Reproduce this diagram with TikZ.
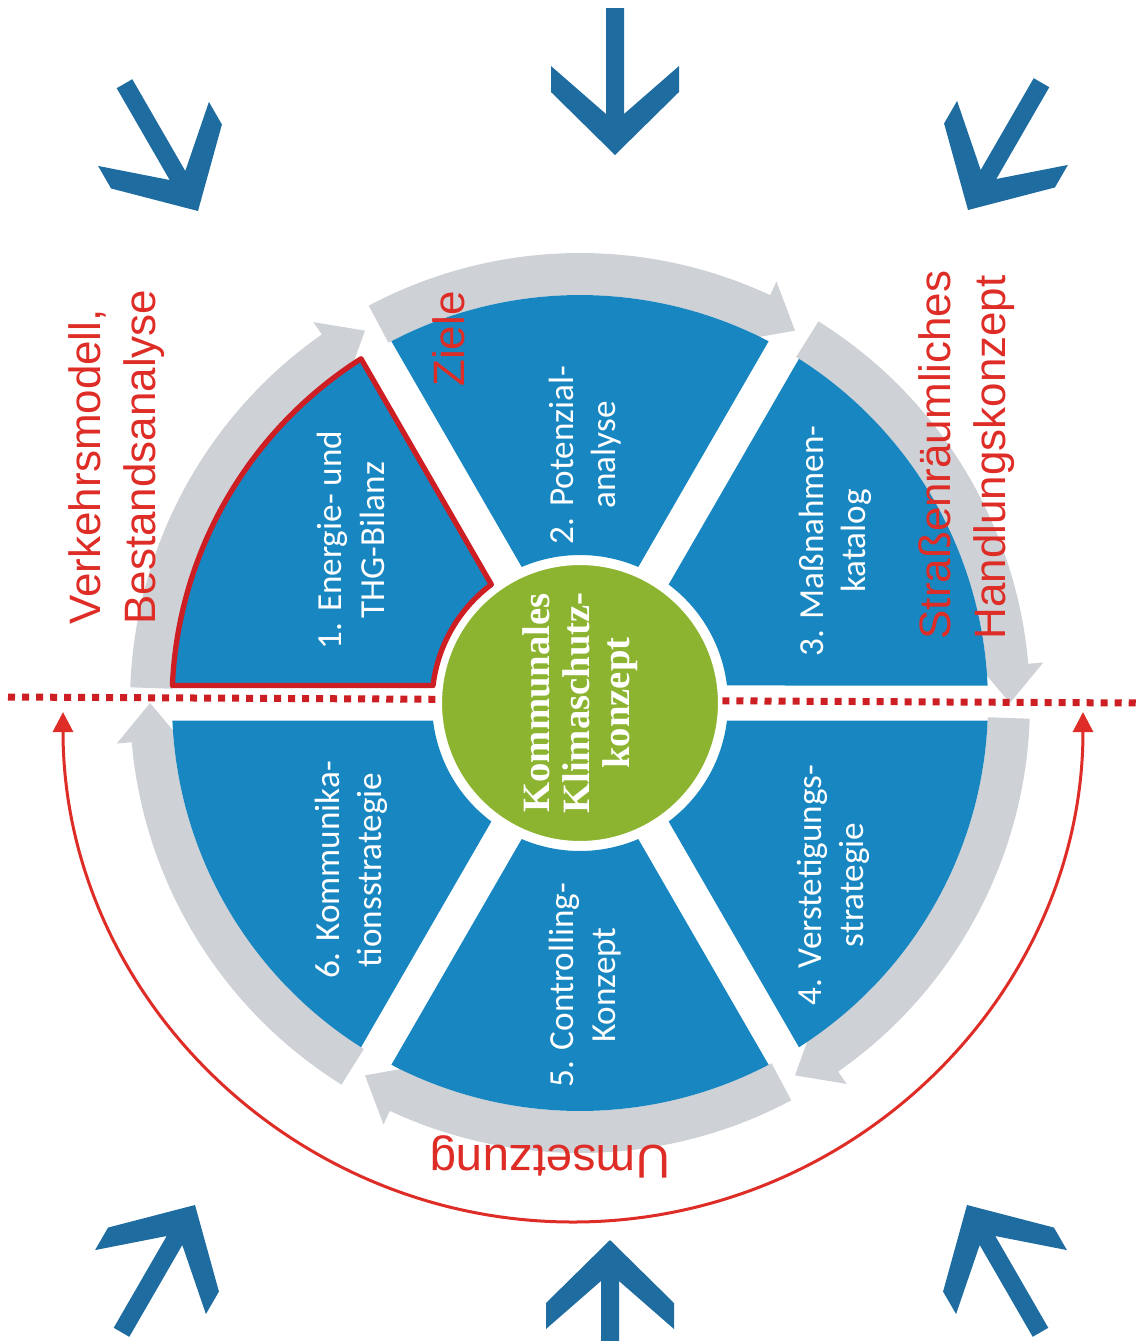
\documentclass[tikz,border=0pt]{standalone}
\usepackage{fontspec, xcolor, tikz}
\setmainfont{Liberation Sans}
\newfontfamily\segfont{Carlito}
\newfontfamily\hubfont{Liberation Serif}
\usetikzlibrary{arrows.meta}

\definecolor{segblue}{RGB}{24,134,192}
\definecolor{arrowblue}{RGB}{30,108,160}
\definecolor{ringgrey}{RGB}{206,209,213}
\definecolor{hubgreen}{RGB}{141,180,48}
\definecolor{labelred}{RGB}{222,45,38}
\definecolor{outlinered}{RGB}{205,30,35}

\tikzset{
  segtext/.style={text=white, align=center, rotate=90, inner sep=0pt, font=\segfont\fontsize{10}{12}\selectfont},
  redtext/.style={text=labelred, align=left, rotate=90, inner sep=0pt, font=\fontsize{12.5}{15.6}\selectfont},
  bigarrow/.pic={
    \fill[arrowblue] (0,0) -- (64,63) -- (64,89) -- (9,41) -- (9,147) -- (-9,147) -- (-9,41) -- (-64,89) -- (-64,63) -- cycle;
  }
}

\begin{document}
\begin{tikzpicture}[x=0.01cm, y=0.01cm]

        \useasboundingbox (0,0) rectangle (1139,-1341);
        \clip (0,0) rectangle (1139,-1341);
        \coordinate (c) at (580,-703);

        \begin{scope}[shift={(c)}]
          \foreach \a in {0,60,...,300}{
            \fill[ringgrey] (\a+58:408) -- (\a+58:450) arc[start angle=\a+58, end angle=\a+5, radius=450]
              -- (\a+5:465) -- (\a:430) -- (\a+5:402) -- (\a+5:408) arc[start angle=\a+5, end angle=\a+58, radius=408] -- cycle;
          }
          \foreach \a in {0,60,...,300}{
            \fill[segblue] (\a+2.46:408) arc[start angle=\a+2.46, end angle=\a+57.54, radius=408]
              -- (\a+53.2:148) arc[start angle=\a+53.2, end angle=\a+6.8, radius=148] -- cycle;
          }
          \draw[outlinered, line width=1.5pt, line join=round] (122.46:408) arc[start angle=122.46, end angle=177.54, radius=408]
            -- (173.2:148) arc[start angle=173.2, end angle=126.8, radius=148] -- cycle;
        \end{scope}

        \coordinate (dL) at (8,-697);
        \coordinate (dR) at (1139,-703);
        \draw[outlinered, line width=0.07cm, dash pattern=on 0.07cm off 0.07cm] (dL) -- (dR);

        \coordinate (uL) at (63,-712);
        \draw[labelred, line width=0.03cm, {Triangle[length=0.2cm, width=0.2cm]}-{Triangle[length=0.2cm, width=0.2cm]}] (uL) arc[start angle=180, end angle=360, radius=510];

        \node[circle, fill=hubgreen, draw=white, line width=1.2pt, minimum size=2.8cm, inner sep=0pt, rotate=90, align=center, text=white,
              font=\hubfont\bfseries\fontsize{11}{11.4}\selectfont] (hub) at (c) {Kommunales\\Klimaschutz-\\konzept};

        \node[segtext] (s1) at (351,-540) {1. Energie- und\\THG-Bilanz};
        \node[segtext] (s2) at (585,-455) {2. Potenzial-\\analyse};
        \node[segtext] (s3) at (835,-541) {3. Maßnahmen-\\katalog};
        \node[segtext] (s4) at (833,-885) {4. Verstetigungs-\\strategie};
        \node[segtext] (s5) at (585,-985) {5. Controlling-\\Konzept};
        \node[segtext] (s6) at (351,-870) {6. Kommunika-\\tionsstrategie};

        \node[redtext] (bestand) at (117,-457) {Verkehrsmodell,\\Bestandsanalyse};
        \node[redtext] (ziele) at (449,-339) {Ziele};
        \node[redtext] (handlung) at (967,-455) {Straßenräumliches\\Handlungskonzept};
        \node[redtext, rotate=90, font=\fontsize{13.5}{16}\selectfont] (umsetzung) at (550,-1157) {Umsetzung};

        \pic[rotate=0] at (615,-155) {bigarrow};
        \pic[rotate=30] at (198,-211) {bigarrow};
        \pic[rotate=-30] at (968,-210) {bigarrow};
        \pic[rotate=150] at (195,-1205) {bigarrow};
        \pic[rotate=180] at (610,-1240) {bigarrow};
        \pic[rotate=-150] at (967,-1205) {bigarrow};

\end{tikzpicture}
\end{document}
